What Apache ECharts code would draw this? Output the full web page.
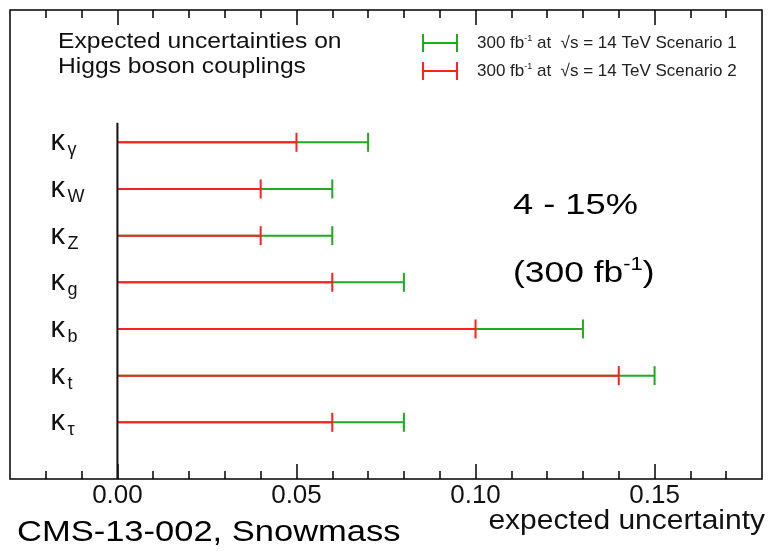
<!DOCTYPE html>
<html><head><meta charset="utf-8">
<script src="https://cdn.jsdelivr.net/npm/echarts@6/dist/echarts.min.js"></script>
<style>html,body{margin:0;padding:0;background:#fff}#c{width:770px;height:551px}</style>
</head><body><div id="c"></div>
<script>
// ---- data ----
const couplings = ['γ', 'W', 'Z', 'g', 'b', 't', 'τ'];
const scenario1 = [0.07, 0.06, 0.06, 0.08, 0.13, 0.15, 0.08];   // green
const scenario2 = [0.05, 0.04, 0.04, 0.06, 0.10, 0.14, 0.06];   // red
const majorTicks = [0, 0.05, 0.10, 0.15];
const minorTicks = [-0.02, -0.01, 0.01, 0.02, 0.03, 0.04, 0.06, 0.07, 0.08, 0.09, 0.11, 0.12, 0.13, 0.14, 0.16, 0.17];
const seriesNames = ['Scenario 1', 'Scenario 2'];
const xMin = -0.03, xMax = 0.18;
const yMin = -2.835, yMax = 7.215, axisTop = -0.42;

const GREEN = '#1faa1f', RED = '#ff2020';
const FONT = 'Arial, "Liberation Sans", Helvetica, sans-serif';

const chart = echarts.init(document.getElementById('c'), null, {renderer: 'canvas'});

function barRenderer(color) {
  return function (params, api) {
    const i = api.value(1);
    const v = api.value(0);
    const p0 = api.coord([0, i]);
    const p1 = api.coord([v, i]);
    const h = 9.5;
    const st = {stroke: color, lineWidth: 2, fill: null};
    return {
      type: 'group',
      children: [
        {type: 'line', shape: {x1: p0[0], y1: p0[1], x2: p1[0], y2: p1[1]}, style: st},
        {type: 'line', shape: {x1: p1[0], y1: p1[1] - h, x2: p1[0], y2: p1[1] + h}, style: st}
      ]
    };
  };
}

function xAxisDef(pos, ticks, len, labels) {
  return {
    type: 'value', min: xMin, max: xMax, position: pos,
    axisLine: {show: false, onZero: false},
    splitLine: {show: false},
    axisTick: {show: true, inside: true, length: len, customValues: ticks, lineStyle: {color: '#000', width: 1.5}},
    axisLabel: labels ? {show: true, customValues: ticks, formatter: v => v.toFixed(2), fontSize: 26, fontFamily: FONT, color: '#111', margin: 4} : {show: false}
  };
}

const legendIcon = 'path://M0,0h2v18h-2z M2,8h32v2h-32z M34,0h2v18h-2z';
const legendText = n => '300 fb{sup|-1} at  √s = 14 TeV ' + n;

const option = {
  animation: false,
  backgroundColor: '#fff',
  grid: {left: 10, right: 8, top: 10, bottom: 72, show: true, borderColor: '#000', borderWidth: 1.5, containLabel: false, outerBoundsMode: 'none'},
  xAxis: [
    xAxisDef('bottom', majorTicks, 15, true),
    xAxisDef('bottom', minorTicks, 8, false),
    xAxisDef('top', majorTicks, 15, false),
    xAxisDef('top', minorTicks, 8, false)
  ],
  yAxis: {type: 'value', inverse: true, min: yMin, max: yMax, show: false, axisLine: {onZero: false}, splitLine: {show: false}},
  legend: {
    orient: 'vertical', left: 422, top: 34, padding: 0, itemWidth: 36, itemHeight: 18, itemGap: 10,
    icon: legendIcon, selectedMode: false,
    data: seriesNames,
    formatter: legendText,
    textStyle: {fontSize: 17, fontFamily: FONT, color: '#222', padding: [0, 0, 0, 14],
      rich: {sup: {fontSize: 9, fontFamily: FONT, color: '#222', padding: [0, 0, 8, 0]}}}
  },
  graphic: [
    {type: 'text', x: 58, y: 42, scaleX: 1.12, style: {text: 'Expected uncertainties on', fontSize: 22, fontFamily: FONT, fill: '#111', align: 'left', verticalAlign: 'middle', textAlign: 'left', textVerticalAlign: 'middle'}},
    {type: 'text', x: 58, y: 67, scaleX: 1.12, style: {text: 'Higgs boson couplings', fontSize: 22, fontFamily: FONT, fill: '#111', align: 'left', verticalAlign: 'middle', textAlign: 'left', textVerticalAlign: 'middle'}},
    {type: 'text', x: 513, y: 206, scaleX: 1.25, style: {text: '4 - 15%', fontSize: 29, fontFamily: FONT, fill: '#000', align: 'left', verticalAlign: 'middle', textAlign: 'left', textVerticalAlign: 'middle'}},
    {type: 'text', x: 513, y: 274, scaleX: 1.22, style: {text: '(300 fb{sup|-1})', fontSize: 29, fontFamily: FONT, fill: '#000', align: 'left', verticalAlign: 'middle', textAlign: 'left', textVerticalAlign: 'middle',
      rich: {sup: {fontSize: 18, fontFamily: FONT, fill: '#000', padding: [0, 0, 18, 0]}}}},
    {type: 'text', x: 17, y: 533, scaleX: 1.15, style: {text: 'CMS-13-002, Snowmass', fontSize: 30, fontFamily: FONT, fill: '#000', align: 'left', verticalAlign: 'middle', textAlign: 'left', textVerticalAlign: 'middle'}},
    {type: 'text', x: 765, y: 522, scaleX: 1.11, style: {text: 'expected uncertainty', fontSize: 27, fontFamily: FONT, fill: '#111', align: 'right', verticalAlign: 'middle', textAlign: 'right', textVerticalAlign: 'middle'}}
  ],
  series: [
    {
      name: seriesNames[0], type: 'custom', itemStyle: {color: GREEN}, z: 2,
      renderItem: barRenderer(GREEN),
      data: scenario1.map((v, i) => [v, i])
    },
    {
      name: seriesNames[1], type: 'custom', itemStyle: {color: RED}, z: 3,
      renderItem: barRenderer(RED),
      data: scenario2.map((v, i) => [v, i])
    },
    {
      name: 'yaxis', type: 'line', z: 5, symbol: 'none', silent: true,
      lineStyle: {color: '#111', width: 2},
      data: [[0, axisTop], [0, yMax]]
    },
    {
      name: 'labels', type: 'custom', silent: true, z: 4,
      renderItem: function (params, api) {
        const i = api.value(0);
        const p = api.coord([0, i]);
        return {
          type: 'group',
          children: [
            {type: 'text', x: p[0] - 67, y: p[1], style: {text: 'κ', fontSize: 29, fontFamily: FONT, fill: '#111', align: 'left', verticalAlign: 'middle', textAlign: 'left', textVerticalAlign: 'middle'}},
            {type: 'text', x: p[0] - 50, y: p[1] + 8, style: {text: couplings[i], fontSize: 18, fontFamily: FONT, fill: '#111', align: 'left', verticalAlign: 'middle', textAlign: 'left', textVerticalAlign: 'middle'}}
          ]
        };
      },
      data: couplings.map((c, i) => [i])
    }
  ]
};
chart.setOption(option);
</script>
</body></html>
